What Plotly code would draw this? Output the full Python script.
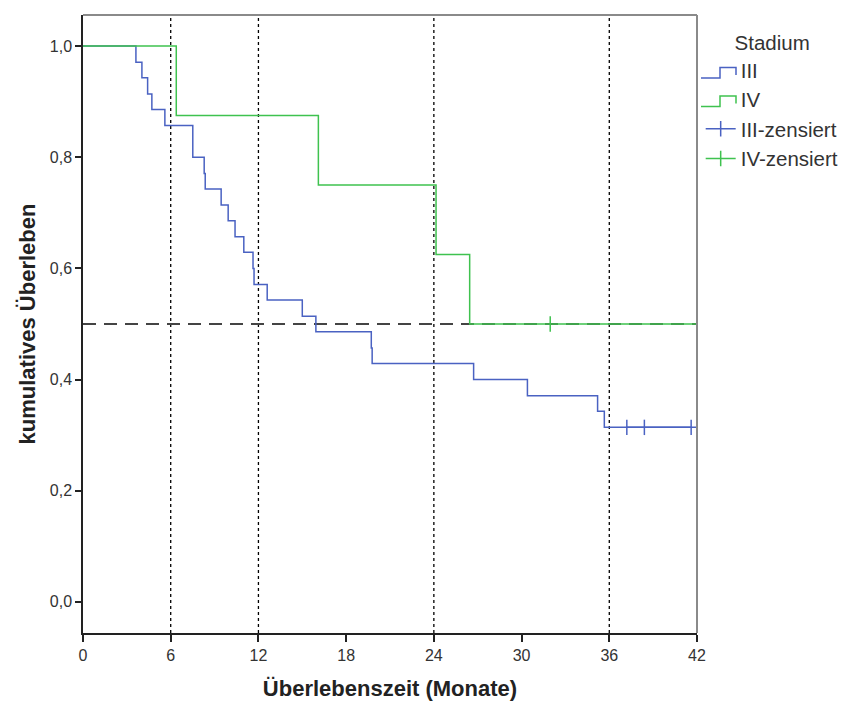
import plotly.graph_objects as go

# Kaplan-Meier step data (months, cumulative survival)
iii_time = [0, 3.62, 4.03, 4.42, 4.71, 5.6, 7.51, 8.29, 8.36, 9.45, 9.93, 10.4, 11.0,
            11.63, 11.7, 12.6, 15.0, 15.93, 19.72, 19.78, 26.72, 30.4, 35.2, 35.66, 42]
iii_surv = [1.0, 0.971, 0.943, 0.914, 0.886, 0.857, 0.800, 0.771, 0.743, 0.714, 0.686,
            0.657, 0.629, 0.600, 0.571, 0.543, 0.514, 0.486, 0.457, 0.429, 0.400, 0.371,
            0.343, 0.314, 0.314]
iv_time = [0, 6.38, 16.1, 24.15, 26.45, 42]
iv_surv = [1.0, 0.875, 0.75, 0.625, 0.5, 0.5]

iii_cens_time = [37.2, 38.4, 41.6]
iii_cens_surv = [0.314, 0.314, 0.314]
iv_cens_time = [31.96]
iv_cens_surv = [0.5]

ref_months = [6, 12, 24, 36]
median_level = 0.5
x_ticks = [0, 6, 12, 18, 24, 30, 36, 42]
y_ticks = [0.0, 0.2, 0.4, 0.6, 0.8, 1.0]

BLUE = "#4a62c2"
GREEN = "#3fc24f"

# plot-area geometry (px) used to place the step-shaped legend icons
W, H = 849, 702
ML, MR, MT, MB = 83, 152, 15, 69
PW, PH = W - ML - MR, H - MT - MB


def px_x(v):
    return (v - ML) / PW


def px_y(v):
    return (H - MB - v) / PH


fig = go.Figure()
fig.add_trace(go.Scatter(x=iii_time, y=iii_surv, mode="lines", line_shape="hv",
                         line=dict(color=BLUE, width=1.5), name="III", showlegend=False))
fig.add_trace(go.Scatter(x=iv_time, y=iv_surv, mode="lines", line_shape="hv",
                         line=dict(color=GREEN, width=1.5), name="IV", showlegend=False))
# legend entries for the step curves (icon drawn as a step shape below)
fig.add_trace(go.Scatter(x=[None], y=[None], mode="lines",
                         line=dict(color="rgba(0,0,0,0)", width=1), name="III"))
fig.add_trace(go.Scatter(x=[None], y=[None], mode="lines",
                         line=dict(color="rgba(0,0,0,0)", width=1), name="IV"))
fig.add_trace(go.Scatter(x=iii_cens_time, y=iii_cens_surv, mode="lines+markers",
                         line=dict(color=BLUE, width=1.5),
                         marker=dict(symbol="line-ns-open", size=11,
                                     line=dict(color=BLUE, width=1.5)),
                         name="III-zensiert"))
fig.add_trace(go.Scatter(x=iv_cens_time, y=iv_cens_surv, mode="lines+markers",
                         line=dict(color=GREEN, width=1.5),
                         marker=dict(symbol="line-ns-open", size=11,
                                     line=dict(color=GREEN, width=1.5)),
                         name="IV-zensiert"))

shapes = []
for m in ref_months:
    shapes.append(dict(type="line", xref="x", yref="paper", x0=m, x1=m, y0=0, y1=1,
                       line=dict(color="black", width=1.3, dash="dot"), layer="below"))
shapes.append(dict(type="line", xref="paper", yref="y", x0=0, x1=1,
                   y0=median_level, y1=median_level,
                   line=dict(color="#444444", width=1.8, dash="13px,8px"), layer="below"))
# gray top/right frame
shapes.append(dict(type="line", xref="paper", yref="paper", x0=0, x1=1, y0=1, y1=1,
                   line=dict(color="#8a8a8a", width=2)))
shapes.append(dict(type="line", xref="paper", yref="paper", x0=1, x1=1, y0=0, y1=1,
                   line=dict(color="#8a8a8a", width=2)))

# step-shaped legend icons
for cy, col in [(72, BLUE), (100.5, GREEN)]:
    pts = [(701, cy + 6), (720, cy + 6), (720, cy - 4.5), (736, cy - 4.5), (736, cy + 3)]
    path = "M " + " L ".join(f"{px_x(a):.5f},{px_y(b):.5f}" for a, b in pts)
    shapes.append(dict(type="path", xref="paper", yref="paper", path=path,
                       line=dict(color=col, width=1.5)))

fig.update_layout(
    width=W, height=H,
    margin=dict(l=ML, r=MR, t=MT, b=MB, autoexpand=False),
    paper_bgcolor="white", plot_bgcolor="white",
    separators=",.",
    font=dict(family="Liberation Sans, Arial, sans-serif", color="#222222"),
    shapes=shapes,
    showlegend=True,
    legend=dict(
        x=1.006, y=0.987, xanchor="left", yanchor="top",
        title=dict(text="Stadium", font=dict(size=20.5, color="#333333"), side="top center"),
        font=dict(size=20.5, color="#333333"),
        bgcolor="rgba(0,0,0,0)", itemwidth=30, tracegroupgap=0,
    ),
    xaxis=dict(
        range=[0, 42], tickvals=x_ticks, ticktext=[str(v) for v in x_ticks],
        showgrid=False, zeroline=False, automargin=False,
        showline=True, linecolor="#222222", linewidth=1.5,
        ticks="outside", ticklen=7, tickcolor="#222222", tickwidth=1.5,
        tickfont=dict(size=16, color="#333333"),
        title=dict(text="<b>Überlebenszeit (Monate)</b>", font=dict(size=22, color="#222222"),
                   standoff=18),
    ),
    yaxis=dict(
        range=[-0.056, 1.056], tickvals=y_ticks, tickformat=".1f",
        showgrid=False, zeroline=False, automargin=False,
        showline=True, linecolor="#222222", linewidth=1.5,
        ticks="outside", ticklen=6, tickcolor="#222222", tickwidth=1.5,
        tickfont=dict(size=16, color="#333333"),
        title=dict(text="<b>kumulatives Überleben</b>", font=dict(size=22, color="#222222"),
                   standoff=8),
    ),
)

fig.write_html("out.html")
